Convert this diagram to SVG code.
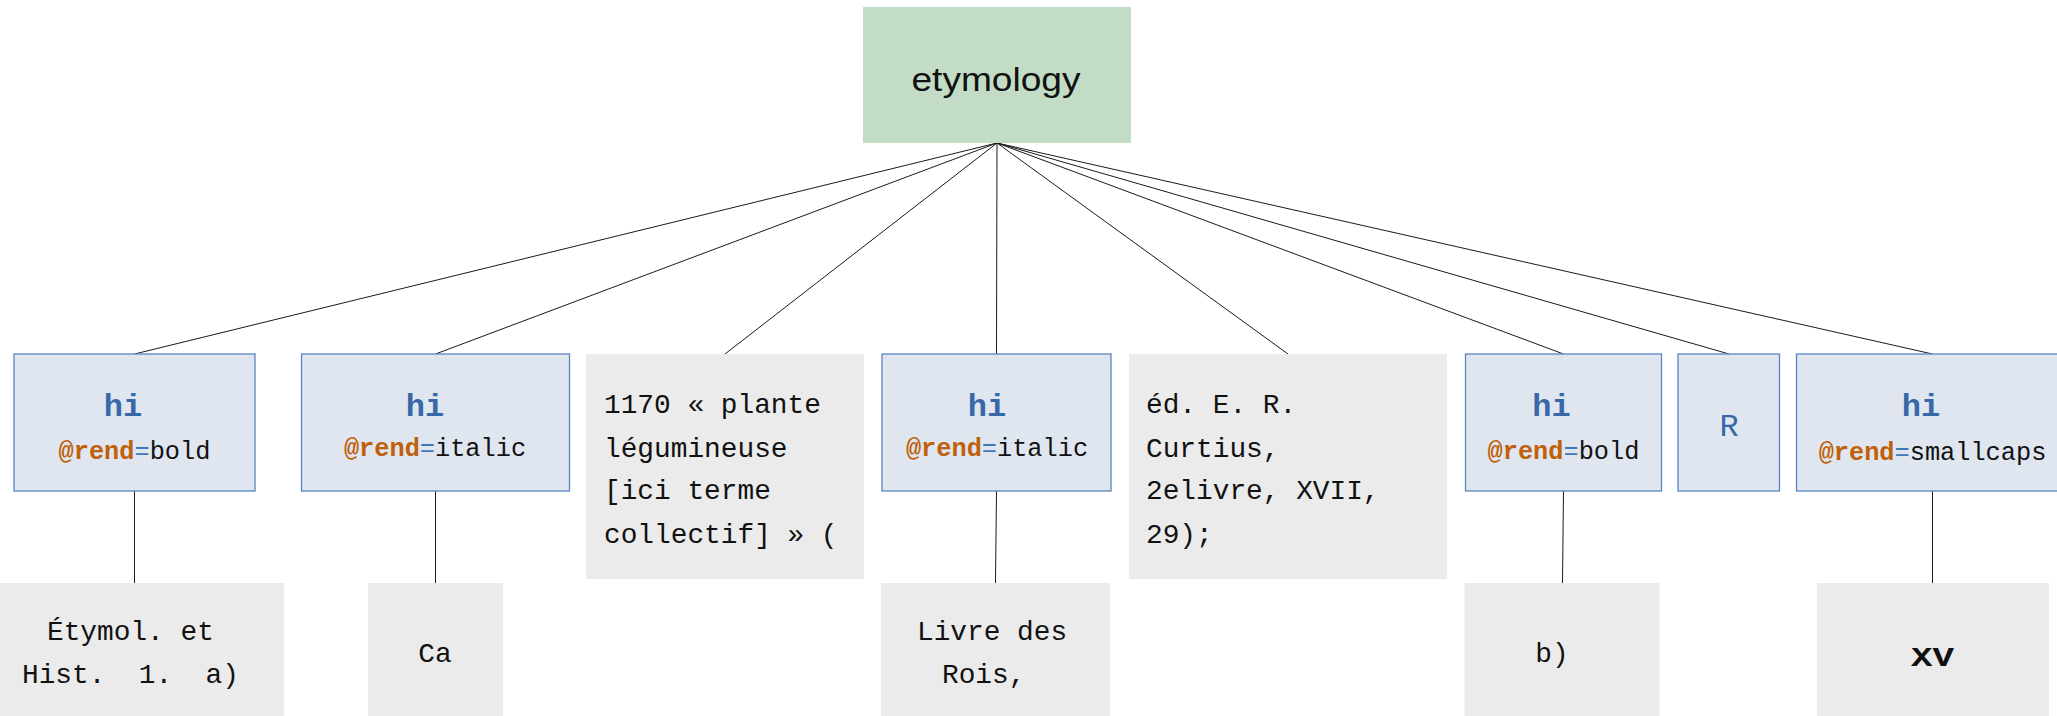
<svg xmlns="http://www.w3.org/2000/svg" width="2057" height="716" viewBox="0 0 2057 716">
<style>
.root{fill:#c2dcc6;}
.el{fill:#dfe6ef;stroke:#5a86c2;stroke-width:1.3;}
.tx{fill:#ebebeb;}
.edge{stroke:#1a1a1a;stroke-width:1;fill:none;}
.sans{font-family:"Liberation Sans","Open Sans",sans-serif;fill:#111;}
.hi{font-family:"Liberation Mono",monospace;font-size:32px;font-weight:bold;fill:#3868a8;text-anchor:middle;}
.R{font-family:"Liberation Mono",monospace;font-size:32px;fill:#3868a8;text-anchor:middle;}
.attr{font-family:"Liberation Mono",monospace;font-size:25.3px;fill:#111;text-anchor:middle;}
.an{fill:#c0600a;font-weight:bold;}
.eq{fill:#3d78b8;}
.mono{font-family:"Liberation Mono",monospace;font-size:27.8px;fill:#111;white-space:pre;}
.mid{text-anchor:middle;}
</style>
<g id="connectors">
<line class="edge" x1="997" y1="143" x2="134.5" y2="354"/>
<line class="edge" x1="997" y1="143" x2="435.5" y2="354"/>
<line class="edge" x1="997" y1="143" x2="725" y2="354"/>
<line class="edge" x1="997" y1="143" x2="996.5" y2="354"/>
<line class="edge" x1="997" y1="143" x2="1288" y2="354"/>
<line class="edge" x1="997" y1="143" x2="1563.5" y2="354"/>
<line class="edge" x1="997" y1="143" x2="1729" y2="354"/>
<line class="edge" x1="997" y1="143" x2="1932.5" y2="354"/>
<line class="edge" x1="134.5" y1="491" x2="134.5" y2="583"/>
<line class="edge" x1="435.5" y1="491" x2="435.5" y2="583"/>
<line class="edge" x1="996.5" y1="491" x2="995.5" y2="583"/>
<line class="edge" x1="1563.5" y1="491" x2="1562.5" y2="583"/>
<line class="edge" x1="1932.5" y1="491" x2="1932.5" y2="583"/>
</g>
<g id="n-etymology">
<rect class="root" x="863" y="7" width="268" height="136"/>
<text class="sans" x="996" y="91" font-size="33" text-anchor="middle" textLength="169" lengthAdjust="spacingAndGlyphs">etymology</text>
</g>
<g id="n-hi-bold-1">
<rect class="el" x="14" y="354" width="241" height="137"/>
<text class="hi" x="123" y="416">hi</text>
<text class="attr" x="134.5" y="459"><tspan class="an">@rend</tspan><tspan class="eq">=</tspan>bold</text>
</g>
<g id="n-etymol">
<rect class="tx" x="0" y="583" width="284" height="140"/>
<text class="mono" x="47" y="640">Étymol. et</text>
<text class="mono" x="22" y="683">Hist.  1.  a)</text>
</g>
<g id="n-hi-italic-1">
<rect class="el" x="301.5" y="354" width="268" height="137"/>
<text class="hi" x="425" y="416">hi</text>
<text class="attr" x="435" y="456"><tspan class="an">@rend</tspan><tspan class="eq">=</tspan>italic</text>
</g>
<g id="n-ca">
<rect class="tx" x="368" y="583" width="135" height="140"/>
<text class="mono mid" x="435" y="662">Ca</text>
</g>
<g id="n-1170">
<rect class="tx" x="586" y="354" width="278" height="225"/>
<text class="mono" x="604" y="413">1170 « plante</text>
<text class="mono" x="604" y="456.7">légumineuse</text>
<text class="mono" x="604" y="499">[ici terme</text>
<text class="mono" x="604" y="542.7">collectif] » (</text>
</g>
<g id="n-hi-italic-2">
<rect class="el" x="882" y="354" width="229" height="137"/>
<text class="hi" x="987" y="416">hi</text>
<text class="attr" x="997" y="456"><tspan class="an">@rend</tspan><tspan class="eq">=</tspan>italic</text>
</g>
<g id="n-livre">
<rect class="tx" x="881" y="583" width="229" height="140"/>
<text class="mono" x="917" y="640">Livre des</text>
<text class="mono" x="942" y="683">Rois,</text>
</g>
<g id="n-ed">
<rect class="tx" x="1129" y="354" width="318" height="225"/>
<text class="mono" x="1146" y="413">éd. E. R.</text>
<text class="mono" x="1146" y="456.7">Curtius,</text>
<text class="mono" x="1146" y="499">2elivre, XVII,</text>
<text class="mono" x="1146" y="542.7">29);</text>
</g>
<g id="n-hi-bold-2">
<rect class="el" x="1465.5" y="354" width="196" height="137"/>
<text class="hi" x="1551.5" y="416">hi</text>
<text class="attr" x="1563.5" y="459"><tspan class="an">@rend</tspan><tspan class="eq">=</tspan>bold</text>
</g>
<g id="n-b">
<rect class="tx" x="1464.5" y="583" width="195" height="140"/>
<text class="mono mid" x="1552" y="662">b)</text>
</g>
<g id="n-R">
<rect class="el" x="1678" y="354" width="101.5" height="137"/>
<text class="R" x="1729" y="436">R</text>
</g>
<g id="n-hi-smallcaps">
<rect class="el" x="1796.5" y="354" width="272" height="137"/>
<text class="hi" x="1921" y="416">hi</text>
<text class="attr" x="1932.5" y="460"><tspan class="an">@rend</tspan><tspan class="eq">=</tspan>smallcaps</text>
</g>
<g id="n-xv">
<rect class="tx" x="1817" y="583" width="232" height="140"/>
<text class="mono mid" x="1932.5" y="666" font-size="27" font-weight="bold" textLength="43" lengthAdjust="spacingAndGlyphs">XV</text>
</g>
</svg>
